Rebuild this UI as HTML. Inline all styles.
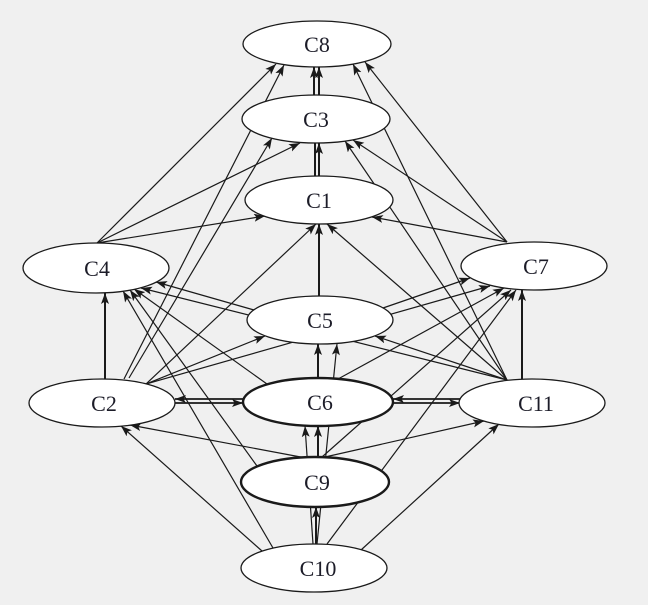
<!DOCTYPE html>
<html>
<head>
<meta charset="utf-8">
<style>
  html, body { margin:0; padding:0; background:#f0f0f0; }
  body { width:648px; height:605px; overflow:hidden; }
  svg { display:block; }
  text { font-family: "Liberation Serif", "DejaVu Serif", serif; font-size:22px; fill:#1c1c28; text-anchor:middle; }
</style>
</head>
<body>
<svg width="648" height="605" viewBox="0 0 648 605" xmlns="http://www.w3.org/2000/svg">
  <defs>
    <marker id="a" markerWidth="12" markerHeight="9" refX="11" refY="4" orient="auto" markerUnits="userSpaceOnUse">
      <path d="M0,0 L11,4 L0,8 L2.5,4 z" fill="#1a1a1a"/>
    </marker>
  </defs>
  <rect x="0" y="0" width="648" height="605" fill="#f0f0f0"/>

  <g stroke="#1a1a1a" stroke-width="1.2" fill="none" marker-end="url(#a)">
    <!-- into C8 -->
    <line x1="97" y1="243" x2="276" y2="64"/>
    <line x1="124" y1="379" x2="284" y2="65"/>
    <line x1="507" y1="242" x2="365" y2="62"/>
    <line x1="507" y1="380" x2="353" y2="64"/>
    <!-- into C3 -->
    <line x1="97" y1="243" x2="300" y2="143"/>
    <line x1="129" y1="378" x2="272" y2="138"/>
    <line x1="507" y1="242" x2="353" y2="140"/>
    <line x1="507" y1="380" x2="345" y2="141"/>
    <!-- into C1 -->
    <line x1="97" y1="243" x2="265" y2="216"/>
    <line x1="146" y1="384" x2="316" y2="224"/>
    <line x1="507" y1="242" x2="372" y2="217"/>
    <line x1="507" y1="380" x2="327" y2="224"/>
    <!-- into C4 -->
    <line x1="254" y1="310" x2="156" y2="282"/>
    <line x1="507" y1="380" x2="141" y2="288"/>
    <line x1="267" y1="384" x2="134" y2="289"/>
    <line x1="257" y1="466" x2="130" y2="290"/>
    <line x1="273" y1="548" x2="123" y2="291"/>
    <!-- into C5 -->
    <line x1="146" y1="384" x2="265" y2="336"/>
    <line x1="507" y1="380" x2="375" y2="336"/>
    <line x1="317" y1="544" x2="337" y2="344"/>
    <!-- into C7 -->
    <line x1="146" y1="384" x2="490" y2="286"/>
    <line x1="383" y1="308" x2="470" y2="278"/>
    <line x1="338" y1="379" x2="504" y2="288"/>
    <line x1="322" y1="457" x2="511" y2="290"/>
    <line x1="327" y1="544" x2="516" y2="290"/>
    <!-- into C6 -->
    <line x1="313" y1="544" x2="305" y2="426"/>
    <!-- into C2 -->
    <line x1="306" y1="458" x2="130" y2="425"/>
    <line x1="262" y1="551" x2="121" y2="426"/>
    <!-- into C11 -->
    <line x1="325" y1="457" x2="484" y2="421"/>
    <line x1="361" y1="550" x2="499" y2="424"/>
  </g>

  <!-- thick edges -->
  <g stroke="#1a1a1a" stroke-width="2" fill="none">
    <line x1="314" y1="95" x2="314" y2="67" marker-end="url(#a)"/>
    <line x1="319" y1="95" x2="319" y2="67" marker-end="url(#a)"/>
    <line x1="315" y1="176" x2="315" y2="143"/>
    <line x1="319" y1="176" x2="319" y2="143" marker-end="url(#a)"/>
    <line x1="319" y1="296" x2="319" y2="224" marker-end="url(#a)"/>
    <line x1="105" y1="379" x2="105" y2="293" marker-end="url(#a)"/>
    <line x1="522" y1="379" x2="522" y2="290" marker-end="url(#a)"/>
    <line x1="318" y1="378" x2="318" y2="344" marker-end="url(#a)"/>
    <line x1="318" y1="457" x2="318" y2="426" marker-end="url(#a)"/>
    <line x1="316" y1="544" x2="316" y2="507" marker-end="url(#a)"/>
    <!-- C2 <-> C6 -->
    <line x1="243" y1="399" x2="175" y2="399" marker-end="url(#a)" stroke-width="1.8"/>
    <line x1="175" y1="403" x2="243" y2="403" marker-end="url(#a)" stroke-width="1.8"/>
    <!-- C6 <-> C11 -->
    <line x1="460" y1="399" x2="393" y2="399" marker-end="url(#a)" stroke-width="1.8"/>
    <line x1="393" y1="403" x2="460" y2="403" marker-end="url(#a)" stroke-width="1.8"/>
  </g>

  <!-- nodes -->
  <g fill="#ffffff" stroke="#1a1a1a" stroke-width="1.3">
    <ellipse cx="317" cy="44" rx="74" ry="23"/>
    <ellipse cx="316" cy="119" rx="74" ry="24"/>
    <ellipse cx="319" cy="200" rx="74" ry="24"/>
    <ellipse cx="96" cy="268" rx="73" ry="25"/>
    <ellipse cx="320" cy="320" rx="73" ry="24"/>
    <ellipse cx="534" cy="266" rx="73" ry="24"/>
    <ellipse cx="102" cy="403" rx="73" ry="24"/>
    <ellipse cx="532" cy="403" rx="73" ry="24"/>
    <ellipse cx="314" cy="568" rx="73" ry="24"/>
    <ellipse cx="318" cy="402" rx="75" ry="24" stroke-width="2.4"/>
    <ellipse cx="315" cy="482" rx="74" ry="25" stroke-width="2.4"/>
  </g>

  <text x="317" y="52">C8</text>
  <text x="316" y="127">C3</text>
  <text x="319" y="208">C1</text>
  <text x="97" y="276">C4</text>
  <text x="320" y="328">C5</text>
  <text x="536" y="274">C7</text>
  <text x="104" y="411">C2</text>
  <text x="320" y="410">C6</text>
  <text x="536" y="411">C11</text>
  <text x="317" y="490">C9</text>
  <text x="318" y="576">C10</text>
</svg>
</body>
</html>
